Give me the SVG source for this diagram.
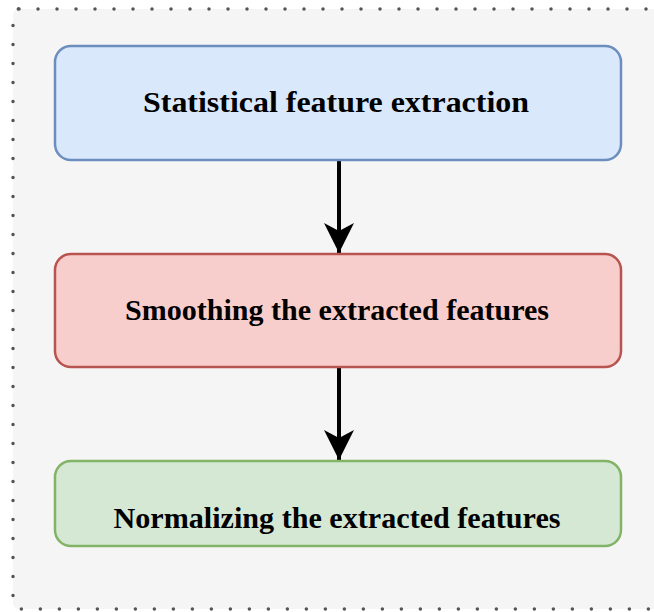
<svg xmlns="http://www.w3.org/2000/svg" width="654" height="612" viewBox="0 0 654 612">
<style>
.box{stroke-width:2.5}
.lbl{font-family:"Liberation Serif","Times New Roman",serif;font-weight:bold;font-size:30px;fill:#000;text-anchor:middle}
.conn{stroke:#000;stroke-width:4;fill:none}
</style>
<defs>
<marker id="ah" viewBox="0 0 30 30" markerWidth="30" markerHeight="30" refX="30" refY="15" markerUnits="userSpaceOnUse" orient="auto">
<path d="M0,0 L30,15 L0,30 L8,15 Z" fill="#000"/>
</marker>
</defs>
<rect x="0" y="0" width="654" height="612" fill="#ffffff"/>
<rect x="13" y="9" width="660" height="600" fill="#f5f5f5" stroke="#555" stroke-width="3.5" stroke-dasharray="0 19" stroke-linecap="round" rx="6"/>
<g id="connectors">
<line class="conn" x1="339" y1="160" x2="339" y2="253" marker-end="url(#ah)"/>
<line class="conn" x1="339" y1="367" x2="339" y2="460" marker-end="url(#ah)"/>
</g>
<g id="node1">
<rect class="box" x="55" y="46" width="566" height="114" rx="16" fill="#dae8fc" stroke="#6c8ebf"/>
<text class="lbl" x="336" y="112" textLength="386" lengthAdjust="spacingAndGlyphs">Statistical feature extraction</text>
</g>
<g id="node2">
<rect class="box" x="55" y="254" width="566" height="113" rx="16" fill="#f8cecc" stroke="#b85450"/>
<text class="lbl" x="337" y="320" textLength="424" lengthAdjust="spacingAndGlyphs">Smoothing the extracted features</text>
</g>
<g id="node3">
<rect class="box" x="55" y="461" width="566" height="85" rx="16" fill="#d5e8d4" stroke="#82b366"/>
<text class="lbl" x="337" y="528" textLength="447" lengthAdjust="spacingAndGlyphs">Normalizing the extracted features</text>
</g>
</svg>
